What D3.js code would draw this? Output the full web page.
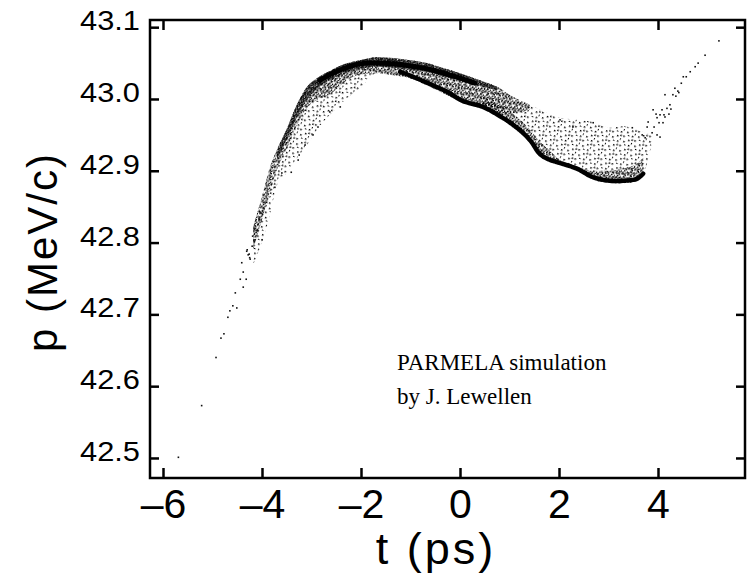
<!DOCTYPE html>
<html>
<head>
<meta charset="utf-8">
<script src="https://cdn.jsdelivr.net/npm/d3@7"></script>
<style>
  body { margin: 0; background: #fff; }
  svg { display: block; }
</style>
</head>
<body>
<svg></svg>
<script>
// ticks
const xTicks = [-6, -4, -2, 0, 2, 4]
const yTicks = [42.5, 42.6, 42.7, 42.8, 42.9, 43.0, 43.1]

// outline of the particle cloud (t in ps, p in MeV/c)
const tEnv = [-4.18, -4.00, -3.84, -3.70, -3.49, -3.29, -3.09, -2.89, -2.63, -2.32, -2.02, -1.68, -1.35, -1.01, -0.67, -0.34, 0.00, 0.40, 0.75, 1.07, 1.41, 1.62, 1.96, 2.36, 2.69, 3.03, 3.29, 3.58, 3.74, 3.88]
const pEnvTop = [42.822, 42.864, 42.905, 42.929, 42.960, 42.993, 43.017, 43.029, 43.039, 43.049, 43.054, 43.058, 43.057, 43.054, 43.050, 43.043, 43.036, 43.026, 43.017, 43.003, 42.992, 42.985, 42.975, 42.971, 42.968, 42.960, 42.962, 42.957, 42.953, 42.950]
const pEnvBot = [42.769, 42.801, 42.838, 42.880, 42.898, 42.918, 42.936, 42.957, 42.978, 42.999, 43.015, 43.036, 43.033, 43.029, 43.019, 43.008, 42.997, 42.987, 42.976, 42.960, 42.939, 42.919, 42.911, 42.901, 42.887, 42.883, 42.882, 42.886, 42.901, 42.940]
// lower edge of the denser part (same t as tEnv, first 21 values)
const pMidBot = [42.790, 42.832, 42.870, 42.901, 42.932, 42.964, 42.988, 42.999, 43.006, 43.024, 43.034, 43.036, 43.033, 43.029, 43.019, 43.008, 42.997, 42.990, 42.983, 42.980, 42.985]
// lower edge of the very dense strip under the top edge (tEnv[3] .. tEnv[18])
const pDenseBot = [42.915, 42.945, 42.975, 43.000, 43.014, 43.026, 43.036, 43.042, 43.045, 43.044, 43.041, 43.038, 43.032, 43.026, 43.018, 43.012]

// the two dark ridges inside the cloud
const topRidgeT = [-2.83, -2.57, -2.32, -2.02, -1.68, -1.35, -1.01, -0.67, -0.34, 0.00, 0.30]
const topRidgeP = [43.026, 43.036, 43.043, 43.049, 43.050, 43.049, 43.046, 43.042, 43.036, 43.029, 43.022]
const lowRidgeT = [-1.21, -0.95, -0.61, -0.26, 0.06, 0.46, 0.81, 1.15, 1.41, 1.62, 1.82, 1.96, 2.36, 2.69, 3.03, 3.29, 3.58, 3.70]
const lowRidgeP = [43.038, 43.031, 43.021, 43.010, 42.997, 42.989, 42.976, 42.960, 42.943, 42.923, 42.915, 42.912, 42.903, 42.891, 42.886, 42.886, 42.889, 42.896]
// upper edge of the denser strip above the lower ridge (lowRidgeT[5] ..)
const pLowBandTop = [43.003, 42.990, 42.975, 42.958, 42.940, 42.928, 42.918, 42.906, 42.900, 42.900, 42.903, 42.910, 42.918]

// single particles outside the cloud
const tailPoints = [[-5.69, 42.501], [-5.22, 42.573], [-4.93, 42.640], [-4.83, 42.667], [-4.77, 42.673], [-4.69, 42.696], [-4.65, 42.705], [-4.59, 42.712], [-4.51, 42.709], [-4.54, 42.730], [-4.44, 42.749], [-4.38, 42.738], [-4.32, 42.749], [-4.38, 42.759], [-4.41, 42.772], [-4.24, 42.777], [-4.28, 42.783], [-4.26, 42.784], [-4.31, 42.788], [-4.30, 42.790], [-4.25, 42.779], [-4.20, 42.795], [-4.16, 42.802], [-4.19, 42.809], [-4.14, 42.804], [-4.12, 42.814], [-4.16, 42.820], [-4.09, 42.817], [-4.05, 42.832], [-4.02, 42.841]]
const armPoints = [[5.23, 43.081], [4.95, 43.061], [4.81, 43.050], [4.75, 43.045], [4.65, 43.038], [4.57, 43.031], [4.51, 43.031], [4.47, 43.022], [4.34, 43.015], [4.40, 43.011], [4.30, 43.006], [4.14, 43.006], [4.36, 43.004], [4.42, 43.009], [4.24, 42.992], [4.18, 42.987], [4.26, 42.986], [4.08, 42.985], [3.90, 42.985], [4.04, 42.978], [3.98, 42.974], [4.14, 42.975], [4.10, 42.967], [3.80, 42.968], [3.92, 42.961], [3.78, 42.961], [3.98, 42.950], [4.04, 42.947], [3.88, 42.953], [3.74, 42.946], [3.68, 42.950], [3.96, 42.979], [4.22, 42.979], [4.12, 42.978], [4.02, 42.967], [3.48, 42.960]]
const strayPoints = [[-4.00, 42.804], [-3.74, 42.877], [-3.41, 42.898], [-3.25, 42.922], [-2.97, 42.950], [-2.87, 42.961], [-2.63, 42.982], [-2.42, 42.989], [-3.13, 42.936], [-3.27, 42.915], [-3.60, 42.897], [2.28, 42.961], [2.69, 42.967], [2.02, 42.971]]

const width = 750
const height = 574
const margin = { top: 20, right: 5, bottom: 96, left: 150 }
const w = width - margin.left - margin.right
const h = height - margin.top - margin.bottom

const svg = d3.select("svg").attr("width", width).attr("height", height)
const g = svg.append("g").attr("transform", "translate(" + margin.left + "," + margin.top + ")")

const xScale = d3.scaleLinear().domain([-6.2626, 5.7576]).range([0, w])
const yScale = d3.scaleLinear().domain([42.4721, 43.1100]).range([h, 0])

// stipple patterns for the particle density
const defs = svg.append("defs")
function stipple(id, pw, ph, dots, rot) {
    const p = defs.append("pattern")
        .attr("id", id)
        .attr("patternUnits", "userSpaceOnUse")
        .attr("width", pw).attr("height", ph)
        .attr("patternTransform", "rotate(" + rot + ")")
    p.selectAll("rect").data(dots).enter().append("rect")
        .attr("x", d => d[0]).attr("y", d => d[1])
        .attr("width", 1.5).attr("height", 1.5)
        .attr("fill", "#000")
}
stipple("sparse", 12, 10, [[1, 1], [7, 3], [3, 6], [9, 8], [11, 5], [5, 9], [10, 1.5]], 23)
stipple("medium", 6, 6, [[0, 0], [3.5, 1], [5, 3.5], [2, 2.8], [0.5, 4.6], [3.6, 5], [2.6, 0.2]], 11)
stipple("dense", 4, 4, [[0, 0], [2, 0.5], [1, 2], [3, 2.2], [0.2, 3.4], [2.2, 3.4]], 31)

const clip = g.append("clipPath").attr("id", "plotclip")
clip.append("rect").attr("width", w).attr("height", h)
const plot = g.append("g").attr("clip-path", "url(#plotclip)")

const env = tEnv.map((t, i) => ({ t: t, top: pEnvTop[i], bot: pEnvBot[i] }))
const mid = pMidBot.map((p, i) => ({ t: tEnv[i], top: pEnvTop[i], bot: p }))
const dense = pDenseBot.map((p, i) => ({ t: tEnv[i + 3], top: pEnvTop[i + 3], bot: p }))
const lowBand = pLowBandTop.map((p, i) => ({ t: lowRidgeT[i + 5], top: p, bot: lowRidgeP[i + 5] }))

const area = d3.area()
    .x(d => xScale(d.t))
    .y0(d => yScale(d.bot))
    .y1(d => yScale(d.top))
    .curve(d3.curveMonotoneX)

plot.append("path").datum(env).attr("d", area).attr("fill", "url(#sparse)")
plot.append("path").datum(mid).attr("d", area).attr("fill", "url(#medium)")
plot.append("path").datum(lowBand).attr("d", area).attr("fill", "url(#medium)")
plot.append("path").datum(dense).attr("d", area).attr("fill", "url(#dense)")

const line = d3.line()
    .x(d => xScale(d[0]))
    .y(d => yScale(d[1]))
    .curve(d3.curveCatmullRom)

plot.append("path")
    .datum(topRidgeT.map((t, i) => [t, topRidgeP[i]]))
    .attr("d", line)
    .attr("fill", "none")
    .attr("stroke", "#000")
    .attr("stroke-width", 5)
    .attr("stroke-linecap", "round")
    .attr("stroke-dasharray", "3,1,2,1,4,1")

plot.append("path")
    .datum(lowRidgeT.map((t, i) => [t, lowRidgeP[i]]))
    .attr("d", line)
    .attr("fill", "none")
    .attr("stroke", "#000")
    .attr("stroke-width", 4.5)
    .attr("stroke-linecap", "round")
    .attr("stroke-dasharray", "4,1,2,1,3,1")

plot.selectAll(".dot")
    .data(tailPoints.concat(armPoints, strayPoints))
    .enter()
    .append("rect")
    .attr("class", "dot")
    .attr("x", d => xScale(d[0]) - 0.75)
    .attr("y", d => yScale(d[1]) - 0.75)
    .attr("width", 1.6)
    .attr("height", 1.6)
    .attr("fill", "#111")

// axes, ticks pointing inward on all four sides
function styleAxis(sel) {
    sel.select(".domain").remove()
    sel.selectAll(".tick line").attr("stroke", "#000").attr("stroke-width", 2.5)
}

g.append("g")
    .attr("transform", "translate(0," + h + ")")
    .call(d3.axisBottom(xScale).tickValues(xTicks).tickSize(-10).tickPadding(11)
        .tickFormat(d => d < 0 ? "\u2013" + (-d) : String(d)))
    .call(styleAxis)
    .selectAll("text")
    .attr("font-family", "Liberation Sans")
    .attr("font-size", 41)
    .attr("fill", "#000")

g.append("g")
    .call(d3.axisTop(xScale).tickValues(xTicks).tickSize(-10).tickFormat(""))
    .call(styleAxis)

g.append("g")
    .call(d3.axisLeft(yScale).tickValues(yTicks).tickSize(-9).tickFormat(""))
    .call(styleAxis)

g.append("g")
    .attr("transform", "translate(" + w + ",0)")
    .call(d3.axisRight(yScale).tickValues(yTicks).tickSize(-9).tickFormat(""))
    .call(styleAxis)

// y tick labels, drawn a little wide like the original
g.append("g")
    .selectAll("text")
    .data(yTicks)
    .enter()
    .append("text")
    .attr("transform", d => "translate(-10," + (yScale(d) + 3) + ") scale(1.1,1)")
    .attr("text-anchor", "end")
    .attr("font-family", "Liberation Sans")
    .attr("font-size", 28)
    .text(d3.format(".1f"))

g.append("rect")
    .attr("width", w)
    .attr("height", h)
    .attr("fill", "none")
    .attr("stroke", "#000")
    .attr("stroke-width", 2.5)

// axis titles
svg.append("text")
    .attr("x", 436)
    .attr("y", 564)
    .attr("text-anchor", "middle")
    .attr("font-family", "Liberation Sans")
    .attr("font-size", 45)
    .attr("letter-spacing", 3)
    .text("t (ps)")

svg.append("text")
    .attr("transform", "translate(57,252) rotate(-90)")
    .attr("text-anchor", "middle")
    .attr("font-family", "Liberation Sans")
    .attr("font-size", 42)
    .attr("letter-spacing", 2)
    .text("p (MeV/c)")

// annotation
const note = svg.append("g")
    .attr("font-family", "Liberation Serif")
    .attr("font-size", 23)
note.append("text").attr("x", 397).attr("y", 370).text("PARMELA simulation")
note.append("text").attr("x", 397).attr("y", 404).text("by J. Lewellen")
</script>
</body>
</html>
